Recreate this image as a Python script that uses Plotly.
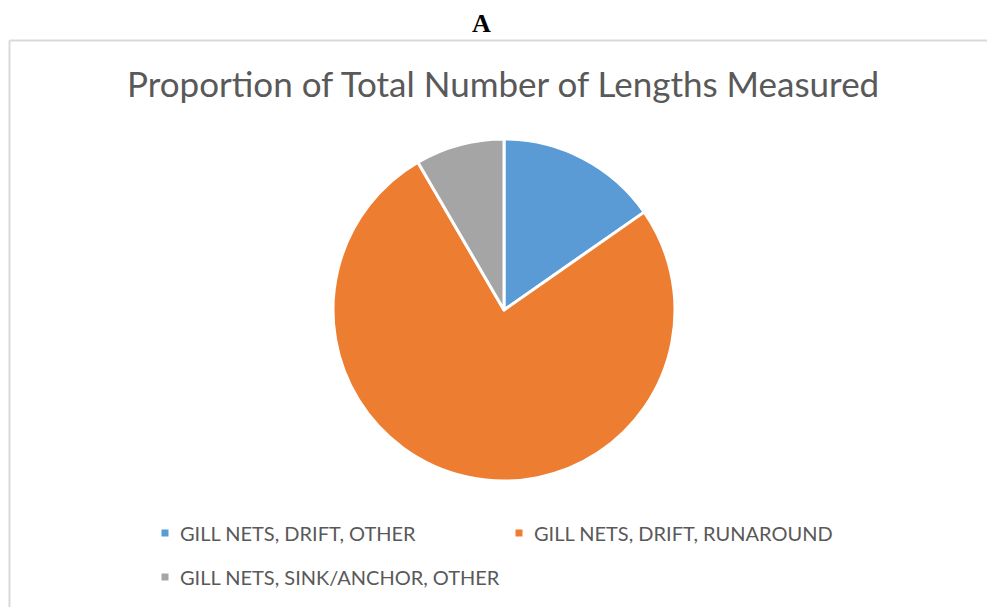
import plotly.graph_objects as go

# Share of measured lengths by gear type (percent)
gear_types = [
    "GILL NETS, DRIFT, OTHER",
    "GILL NETS, DRIFT, RUNAROUND",
    "GILL NETS, SINK/ANCHOR, OTHER",
]
share_pct = [15.3, 76.3, 8.4]
slice_colors = ["#5B9BD5", "#ED7D31", "#A5A5A5"]

W, H = 987, 607
TEXT_GREY = "#595959"


def px_x(x):
    return x / W


def px_y(y):
    return 1 - y / H


cx, cy, r = 504, 310, 171

fig = go.Figure(
    go.Pie(
        labels=gear_types,
        values=share_pct,
        sort=False,
        direction="clockwise",
        rotation=0,
        marker=dict(colors=slice_colors, line=dict(color="white", width=3)),
        textinfo="none",
        hoverinfo="label+percent",
        showlegend=False,
        domain=dict(x=[px_x(cx - r), px_x(cx + r)], y=[px_y(cy + r), px_y(cy - r)]),
    )
)

shapes = [
    # chart-area frame (open on the right and bottom)
    dict(type="line", xref="paper", yref="paper",
         x0=px_x(9.5), y0=px_y(40.5), x1=1.0, y1=px_y(40.5),
         line=dict(color="#D9D9D9", width=2)),
    dict(type="line", xref="paper", yref="paper",
         x0=px_x(9.5), y0=px_y(40.5), x1=px_x(9.5), y1=0.0,
         line=dict(color="#D9D9D9", width=2)),
]

annotations = [
    dict(text="<b>A</b>", x=px_x(481), y=px_y(23), xref="paper", yref="paper",
         showarrow=False, xanchor="center", yanchor="middle",
         font=dict(family="Liberation Serif", size=26, color="black")),
    dict(text="Proportion of Total Number of Lengths Measured",
         x=px_x(503), y=px_y(83), xref="paper", yref="paper",
         showarrow=False, xanchor="center", yanchor="middle",
         font=dict(family="Lato", size=35, color=TEXT_GREY)),
]

# legend entries laid out in two columns
legend_pos = [(165, 533), (519, 533), (165, 577)]
for name, color, (lx, ly) in zip(gear_types, slice_colors, legend_pos):
    shapes.append(dict(type="rect", xref="paper", yref="paper",
                       x0=px_x(lx - 3.5), x1=px_x(lx + 3.5),
                       y0=px_y(ly + 3.5), y1=px_y(ly - 3.5),
                       fillcolor=color, line=dict(width=0)))
    annotations.append(dict(text=name, x=px_x(lx + 13), y=px_y(ly),
                            xref="paper", yref="paper", showarrow=False,
                            xanchor="left", yanchor="middle",
                            font=dict(family="Lato", size=20, color=TEXT_GREY)))

fig.update_layout(
    width=W, height=H,
    margin=dict(l=0, r=0, t=0, b=0),
    paper_bgcolor="white",
    plot_bgcolor="white",
    shapes=shapes,
    annotations=annotations,
)

fig.write_html("out.html")
